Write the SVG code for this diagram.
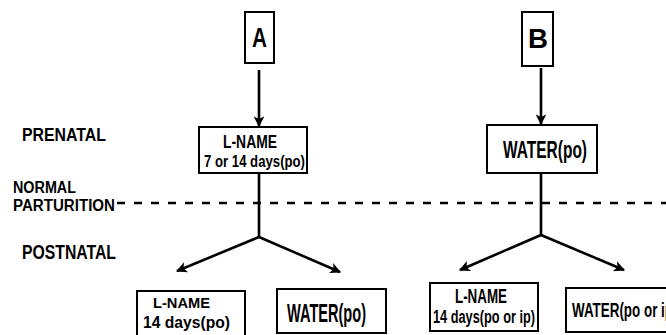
<svg xmlns="http://www.w3.org/2000/svg" width="666" height="335" viewBox="0 0 666 335">
<style>
.box{fill:#fff;stroke:#000;stroke-width:2}
.ln{fill:none;stroke:#000;stroke-width:2.6}
.t{font-family:"Liberation Sans",Arial,sans-serif;font-weight:bold;fill:#000}
.dash{fill:none;stroke:#000;stroke-width:2.4;stroke-dasharray:8 9}
</style>
<defs>
<marker id="ah" viewBox="0 0 10 10" refX="9" refY="5" markerWidth="4.2" markerHeight="4.2" orient="auto" markerUnits="strokeWidth">
<path d="M0,0 L10,5 L0,10 L2.5,5 Z" fill="#000"/>
</marker>
</defs>
<rect width="666" height="335" fill="#fff"/>

<g id="labels">
<text class="t" x="22" y="141" font-size="18" textLength="84" lengthAdjust="spacingAndGlyphs">PRENATAL</text>
<text class="t" x="13" y="193" font-size="16" textLength="63" lengthAdjust="spacingAndGlyphs">NORMAL</text>
<text class="t" x="13" y="211" font-size="16" textLength="102" lengthAdjust="spacingAndGlyphs">PARTURITION</text>
<text class="t" x="22" y="259" font-size="19.5" textLength="94" lengthAdjust="spacingAndGlyphs">POSTNATAL</text>
</g>

<g id="connectors">
<line class="dash" x1="117" y1="203" x2="666" y2="203"/>
<line class="ln" x1="259" y1="70" x2="259" y2="126" marker-end="url(#ah)"/>
<line class="ln" x1="541" y1="68" x2="541" y2="124" marker-end="url(#ah)"/>
<polyline class="ln" points="259,173 259,237"/>
<line class="ln" x1="259" y1="237" x2="177" y2="271" marker-end="url(#ah)"/>
<line class="ln" x1="259" y1="237" x2="340" y2="272" marker-end="url(#ah)"/>
<polyline class="ln" points="541,173 541,235"/>
<line class="ln" x1="541" y1="235" x2="460" y2="270" marker-end="url(#ah)"/>
<line class="ln" x1="541" y1="235" x2="624" y2="270" marker-end="url(#ah)"/>
</g>

<g id="nodeA">
<rect class="box" x="245" y="12" width="29" height="51"/>
<text class="t" x="259.5" y="47" font-size="28" text-anchor="middle" textLength="15" lengthAdjust="spacingAndGlyphs">A</text>
</g>
<g id="nodeB">
<rect class="box" x="522" y="12" width="31" height="54"/>
<text class="t" x="538" y="48" font-size="28" text-anchor="middle" textLength="20" lengthAdjust="spacingAndGlyphs">B</text>
</g>

<g id="prenatalA">
<rect class="box" x="199" y="127" width="108" height="46"/>
<text class="t" x="250" y="148" font-size="18" text-anchor="middle" textLength="54" lengthAdjust="spacingAndGlyphs">L-NAME</text>
<text class="t" x="254.5" y="167" font-size="17" text-anchor="middle" textLength="101" lengthAdjust="spacingAndGlyphs">7 or 14 days(po)</text>
</g>
<g id="prenatalB">
<rect class="box" x="487" y="125" width="110" height="48"/>
<text class="t" x="545" y="158" font-size="23" text-anchor="middle" textLength="84" lengthAdjust="spacingAndGlyphs">WATER(po)</text>
</g>

<g id="postA1">
<rect class="box" x="137" y="291" width="108" height="50"/>
<text class="t" x="181.5" y="308" font-size="15" text-anchor="middle" textLength="57" lengthAdjust="spacingAndGlyphs">L-NAME</text>
<text class="t" x="186.5" y="328" font-size="17" text-anchor="middle" textLength="87" lengthAdjust="spacingAndGlyphs">14 days(po)</text>
</g>
<g id="postA2">
<rect class="box" x="277" y="289" width="109" height="44"/>
<text class="t" x="326.5" y="322" font-size="25" text-anchor="middle" textLength="79" lengthAdjust="spacingAndGlyphs">WATER(po)</text>
</g>
<g id="postB1">
<rect class="box" x="430" y="283" width="108" height="48"/>
<text class="t" x="481" y="303" font-size="19.5" text-anchor="middle" textLength="52" lengthAdjust="spacingAndGlyphs">L-NAME</text>
<text class="t" x="484" y="323" font-size="17.5" text-anchor="middle" textLength="102" lengthAdjust="spacingAndGlyphs">14 days(po or ip)</text>
</g>
<g id="postB2">
<rect class="box" x="566" y="288" width="120" height="44"/>
<text class="t" x="572" y="317" font-size="21" textLength="101" lengthAdjust="spacingAndGlyphs">WATER(po or ip</text>
</g>
</svg>
